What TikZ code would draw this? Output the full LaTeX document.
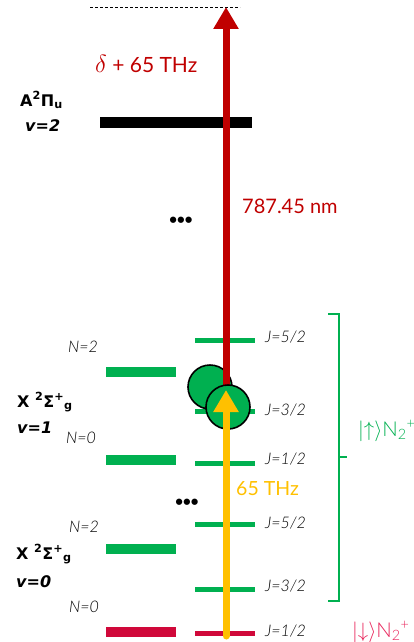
\documentclass[tikz,border=0pt]{standalone}
\usepackage{fontspec}
\setmainfont{Lato}
\newfontfamily\lightf{Lato Light}
\newfontfamily\dvf{DejaVu Sans}
\newfontfamily\arialf{Liberation Sans}
\usetikzlibrary{arrows.meta}
\definecolor{gr}{HTML}{00B050}
\definecolor{dred}{HTML}{C00000}
\definecolor{crim}{HTML}{D0083A}
\definecolor{yel}{HTML}{FFC000}
\definecolor{pinkred}{HTML}{E8245A}
\newcommand{\ketup}{$|{\uparrow}\rangle$}
\newcommand{\ketdown}{$|{\downarrow}\rangle$}
\begin{document}
\begin{tikzpicture}[x=1pt,y=-1pt,
  nbar/.style={rectangle, inner sep=0pt, minimum width=70pt, minimum height=10pt, fill=gr},
  jbar/.style={rectangle, inner sep=0pt, minimum width=60pt, minimum height=5pt, fill=gr},
  blab/.style={anchor=base west, inner sep=0pt, font=\dvf\bfseries\fontsize{16}{18}\selectfont},
  blabi/.style={blab, font=\dvf\bfseries\itshape\fontsize{16}{18}\selectfont},
  jlab/.style={anchor=base west, inner sep=0pt, text=black, font=\lightf\itshape\fontsize{16}{18}\selectfont},
  ball/.style={circle, fill=gr, draw=black, line width=1.6pt, minimum size=44pt, inner sep=0pt},
  dots/.style={inner sep=0pt, font=\arialf\bfseries\fontsize{22}{22}\selectfont},
  ket/.style={anchor=base west, inner sep=0pt, font=\lightf\fontsize{20.5}{22}\selectfont},
  bigarrow/.style={line width=7pt, -{Triangle[width=24pt,length=22pt]}}
]
\useasboundingbox (0,0) rectangle (413,642);

% dashed top line
\coordinate (dl) at (90,7);
\coordinate (dr) at (240,7);
\draw[line width=0.7pt, dash pattern=on 3pt off 2pt] (dl) -- (dr);

% A state
\node[rectangle, inner sep=0pt, minimum width=152pt, minimum height=11pt, fill=black] (abar) at (176,122.5) {};
\node[blab] (alab) at (20,106) {A\textsuperscript{2}Π\textsubscript{u}};
\node[blabi] (av) at (25,131) {v=2};

% v=1 levels
\node[nbar] (n12) at (141,372) {};
\node[nbar] (n10) at (141,460) {};
\node[jbar] (j152) at (225,340) {};
\node[jbar] (j132) at (225,411) {};
\node[jbar] (j112) at (225,463) {};
% v=0 levels
\node[nbar] (n02) at (141,549) {};
\node[nbar, fill=crim] (n00) at (141,632) {};
\node[jbar] (j052) at (225,524) {};
\node[jbar] (j032) at (225,589) {};
\node[jbar, fill=crim] (j012) at (225,633) {};

% labels
\node[blab] (x1) at (17,407) {X \textsuperscript{2}Σ\textsuperscript{+}\textsubscript{g}};
\node[blabi] (x1v) at (17,433) {v=1};
\node[blab] (x0) at (16,559) {X \textsuperscript{2}Σ\textsuperscript{+}\textsubscript{g}};
\node[blabi] (x0v) at (16,587) {v=0};

\node[jlab] (ln12) at (68,352) {N=2};
\node[jlab] (ln10) at (66,443) {N=0};
\node[jlab] (ln02) at (69,532) {N=2};
\node[jlab] (ln00) at (69,612) {N=0};

\node[jlab] (lj152) at (265,342) {J=5/2};
\node[jlab] (lj132) at (265,415) {J=3/2};
\node[jlab] (lj112) at (265,464) {J=1/2};
\node[jlab] (lj052) at (265,528) {J=5/2};
\node[jlab] (lj032) at (265,591) {J=3/2};
\node[jlab] (lj012) at (265,636) {J=1/2};

\node[dots] (d1) at (181,222) {•••};
\node[dots] (d2) at (187,504) {•••};

% bracket
\draw[gr, line width=2pt] (328,314) -- (339,314) -- (339,601) -- (328,601);
\draw[gr, line width=2pt] (339,457) -- (347,457);
\node[ket, text=gr] (up) at (358,436) {\ketup N\textsubscript{2}\textsuperscript{+}};
\node[ket, text=pinkred] (down) at (352,637) {\ketdown N\textsubscript{2}\textsuperscript{+}};

% arrows and ions
\node[ball] (b1) at (210,387) {};
\coordinate (rtail) at (226,400);
\coordinate (rtip) at (226,7);
\draw[bigarrow, dred] (rtail) -- (rtip);
\node[ball] (b2) at (228,407) {};
\coordinate (ytail) at (226,636);
\coordinate (ytip) at (226,390);
\draw[bigarrow, yel, line cap=round] (ytail) -- (ytip);

% transition labels
\node[anchor=base west, inner sep=0pt, text=dred, font=\fontsize{21}{24}\selectfont] (dlab) at (95,73) {{\fontsize{25}{26}\selectfont$\delta$} + 65 THz};
\node[anchor=base west, inner sep=0pt, text=dred, font=\fontsize{20}{24}\selectfont] (nmlab) at (242,213) {787.45 nm};
\node[anchor=base west, inner sep=0pt, text=yel, font=\fontsize{19.5}{22}\selectfont] (thz) at (236,495) {65 THz};
\end{tikzpicture}
\end{document}
